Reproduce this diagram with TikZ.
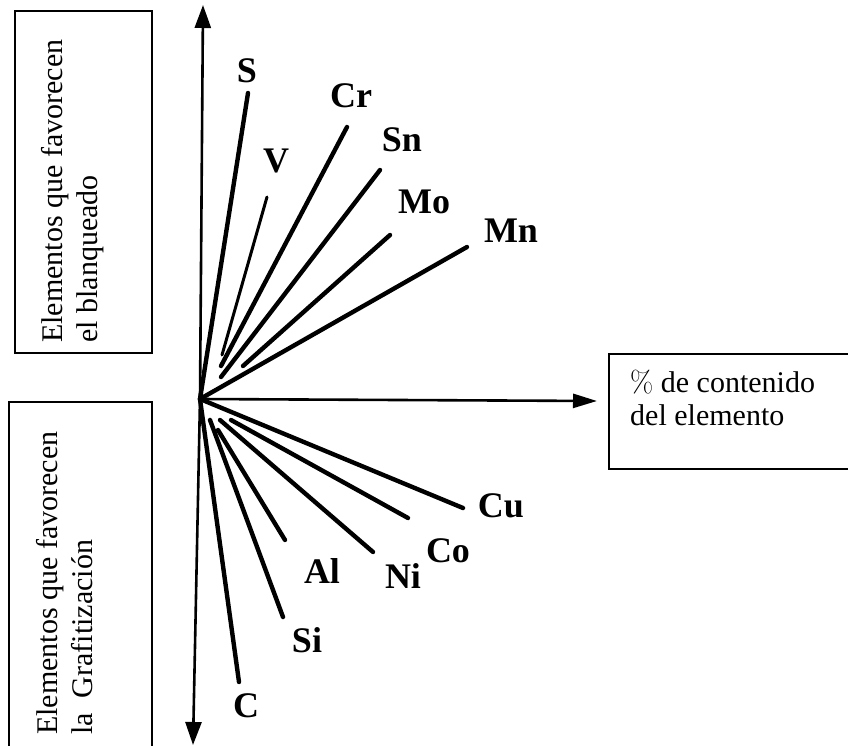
\documentclass[tikz,border=0pt]{standalone}
\usepackage{fontspec}
\newfontfamily\tnr{Liberation Serif}
\usetikzlibrary{arrows.meta}
\begin{document}
\begin{tikzpicture}[x=1pt,y=-1pt,
  frame/.style={draw, line width=1.4pt},
  vtext/.style={rotate=90, anchor=base west, inner sep=0pt, font=\tnr\fontsize{30}{36}\selectfont},
  htext/.style={anchor=base west, inner sep=0pt, font=\tnr\fontsize{30}{36}\selectfont},
  elem/.style={anchor=base, inner sep=0pt, font=\tnr\bfseries\fontsize{36}{42}\selectfont},
  axis/.style={line width=2.6pt, -{Triangle[length=23pt,width=16pt]}},
  ray/.style={line width=4.4pt, line cap=round},
  thinray/.style={line width=3pt, line cap=round}]
\useasboundingbox (0,0) rectangle (848,746);
\clip (0,0) rectangle (848,746);

% frames with the captions
\draw[frame] (15,11) rectangle (152,353);
\draw[frame] (9,402) rectangle (152,770);
\draw[frame] (609,354) rectangle (870,469);

\node[vtext] (up1) at (62,343) {Elementos que favorecen};
\node[vtext] (up2) at (97,343) {el blanqueado};
\node[vtext] (dn1) at (57,735) {Elementos que favorecen};
\node[vtext] (dn2) at (92,735) {la\ \ Grafitización};
\node[htext] (pc1) at (630,392) {{\rmfamily\%} de contenido};
\node[htext] (pc2) at (630,425) {del elemento};

% axes
\coordinate (o) at (200,399);
\coordinate (ytop) at (203,5);
\coordinate (ybot) at (193,745);
\coordinate (xend) at (597,401);
\draw[axis] (o) -- (ytop);
\draw[axis] (o) -- (ybot);
\draw[line width=2.6pt, -{Triangle[length=24pt,width=14pt]}] (o) -- (xend);

% rays of the elements that favour white iron
\coordinate (S1) at (248,93);
\coordinate (V0) at (222,355);   \coordinate (V1) at (267,197);
\coordinate (Cr0) at (221,366);  \coordinate (Cr1) at (347,127);
\coordinate (Sn0) at (221,377);  \coordinate (Sn1) at (380,170);
\coordinate (Mo0) at (243,366);  \coordinate (Mo1) at (390,235);
\coordinate (Mn1) at (467,247);
\draw[ray] (o) -- (S1);
\draw[thinray] (V0) -- (V1);
\draw[ray] (Cr0) -- (Cr1);
\draw[ray] (Sn0) -- (Sn1);
\draw[ray] (Mo0) -- (Mo1);
\draw[ray] (o) -- (Mn1);

% rays of the elements that favour graphitization
\coordinate (Cu1) at (463,508);
\coordinate (Co0) at (231,420);  \coordinate (Co1) at (408,518);
\coordinate (Ni0) at (220,420);  \coordinate (Ni1) at (373,552);
\coordinate (Al0) at (218,430);  \coordinate (Al1) at (285,540);
\coordinate (Si0) at (210,420);  \coordinate (Si1) at (283,617);
\coordinate (C1) at (239,682);
\draw[ray] (o) -- (Cu1);
\draw[ray] (Co0) -- (Co1);
\draw[ray] (Ni0) -- (Ni1);
\draw[ray] (Al0) -- (Al1);
\draw[ray] (Si0) -- (Si1);
\draw[ray] (o) -- (C1);

% element symbols
\node[elem] (lS)  at (247,83)  {S};
\node[elem] (lV)  at (276,173) {V};
\node[elem] (lCr) at (351,108) {Cr};
\node[elem] (lSn) at (402,152) {Sn};
\node[elem] (lMo) at (424,213) {Mo};
\node[elem] (lMn) at (511,242) {Mn};
\node[elem] (lCu) at (501,517) {Cu};
\node[elem] (lCo) at (448,562) {Co};
\node[elem] (lNi) at (403,588) {Ni};
\node[elem] (lAl) at (322,583) {Al};
\node[elem] (lSi) at (307,652) {Si};
\node[elem] (lC)  at (246,717) {C};
\end{tikzpicture}
\end{document}
